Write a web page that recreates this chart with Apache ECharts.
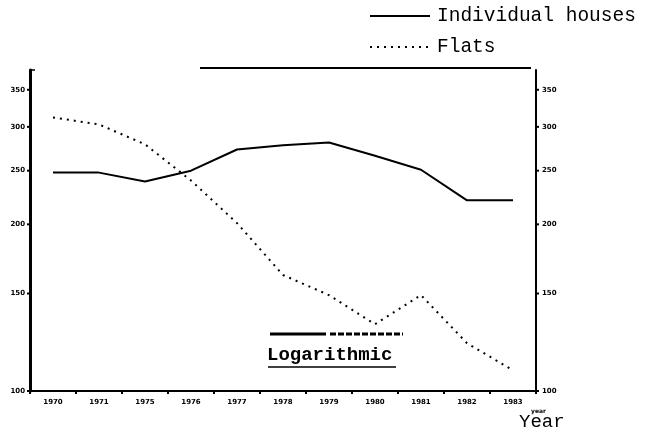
<!DOCTYPE html>
<html><head><meta charset="utf-8">
<script src="https://cdn.jsdelivr.net/npm/echarts@6/dist/echarts.min.js"></script>
<style>html,body{margin:0;padding:0;background:#fff}#c{width:646px;height:434px}</style>
</head><body><div id="c"></div>
<script>
const years = ['1970','1971','1975','1976','1977','1978','1979','1980','1981','1982','1983'];
const houses = [248, 248, 239, 250, 273, 278, 281, 266, 251, 221, 221];
const flats = [312, 303, 279, 240, 201, 162, 149, 132, 149, 122, 109];
const yTicks = [100, 150, 200, 250, 300, 350];
const yMin = 100, yMax = 380;

const mono = 'Liberation Mono';
const chart = echarts.init(document.getElementById('c'), null, {renderer: 'canvas'});
chart.setOption({
  animation: false,
  backgroundColor: '#fff',
  grid: {left: 30, right: 110, top: 70, bottom: 43},
  legend: {
    orient: 'vertical', left: 364, top: 1, itemWidth: 60, itemHeight: 14, itemGap: 11,
    itemStyle: {opacity: 0, borderWidth: 0},
    textStyle: {fontFamily: mono, fontSize: 19.5, color: '#000', padding: [0,0,0,2]},
    data: ['Individual houses', 'Flats']
  },
  xAxis: {
    type: 'category', data: years, boundaryGap: true,
    axisLine: {lineStyle: {color: '#000', width: 2}},
    axisTick: {show: true, length: 3, lineStyle: {color: '#000', width: 2}},
    axisLabel: {fontSize: 7, fontWeight: 'bold', color: '#000', margin: 8, fontFamily: 'DejaVu Sans'}
  },
  yAxis: [
    {type: 'log', min: yMin, max: yMax, position: 'left',
     axisLine: {show: true, lineStyle: {color: '#000', width: 3}},
     axisTick: {show: false}, axisLabel: {show: false}, splitLine: {show: false}},
    {type: 'log', min: yMin, max: yMax, position: 'right',
     axisLine: {show: true, lineStyle: {color: '#000', width: 2}},
     axisTick: {show: false}, axisLabel: {show: false}, splitLine: {show: false}}
  ],
  series: [
    {name: 'Individual houses', type: 'line', data: houses, symbol: 'none',
     lineStyle: {color: '#000', width: 2}, itemStyle: {color: '#000'}},
    {name: 'Flats', type: 'line', data: flats, symbol: 'none',
     lineStyle: {color: '#000', width: 2, type: [2, 5]}, itemStyle: {color: '#000'}}
  ]
});

const els = [];
const gridLeft = 30, gridRight = 646 - 110;
yTicks.forEach(v => {
  const y = chart.convertToPixel({yAxisIndex: 0}, v);
  els.push({type: 'text', x: gridLeft - 5, y: y, style: {text: String(v), fontSize: 7, fontWeight: 'bold', fontFamily: 'DejaVu Sans', fill: '#000', align: 'right', verticalAlign: 'middle'}});
  els.push({type: 'line', shape: {x1: gridLeft - 3, y1: y, x2: gridLeft, y2: y}, style: {stroke: '#000', lineWidth: 2}});
  els.push({type: 'text', x: gridRight + 6, y: y, style: {text: String(v), fontSize: 7, fontWeight: 'bold', fontFamily: 'DejaVu Sans', fill: '#000', align: 'left', verticalAlign: 'middle'}});
  els.push({type: 'line', shape: {x1: gridRight, y1: y, x2: gridRight + 3, y2: y}, style: {stroke: '#000', lineWidth: 2}});
});
const topY = chart.convertToPixel({yAxisIndex: 0}, yMax);
els.push({type: 'line', shape: {x1: 200, y1: topY - 2, x2: gridRight - 5, y2: topY - 2}, style: {stroke: '#000', lineWidth: 2}});
els.push({type: 'line', shape: {x1: gridLeft, y1: topY, x2: gridLeft + 5, y2: topY}, style: {stroke: '#000', lineWidth: 1.5}});
// annotation
els.push({type: 'line', shape: {x1: 270, y1: 334, x2: 326, y2: 334}, style: {stroke: '#000', lineWidth: 3}});
els.push({type: 'line', shape: {x1: 330, y1: 334, x2: 403, y2: 334}, style: {stroke: '#000', lineWidth: 3, lineDash: [6, 2]}});
els.push({type: 'text', x: 267, y: 355, style: {text: 'Logarithmic', fontFamily: mono, fontSize: 19, fontWeight: 'bold', fill: '#000', verticalAlign: 'middle'}});
els.push({type: 'line', shape: {x1: 268, y1: 367, x2: 396, y2: 367}, style: {stroke: '#000', lineWidth: 1.5}});
els.push({type: 'text', x: 531, y: 411, style: {text: 'year', fontFamily: 'DejaVu Sans', fontSize: 6, fontWeight: 'bold', fill: '#000', verticalAlign: 'middle'}});
els.push({type: 'text', x: 519, y: 422, style: {text: 'Year', fontFamily: mono, fontSize: 19, fill: '#000', verticalAlign: 'middle'}});
chart.setOption({graphic: {elements: els}});
</script>
</body></html>
